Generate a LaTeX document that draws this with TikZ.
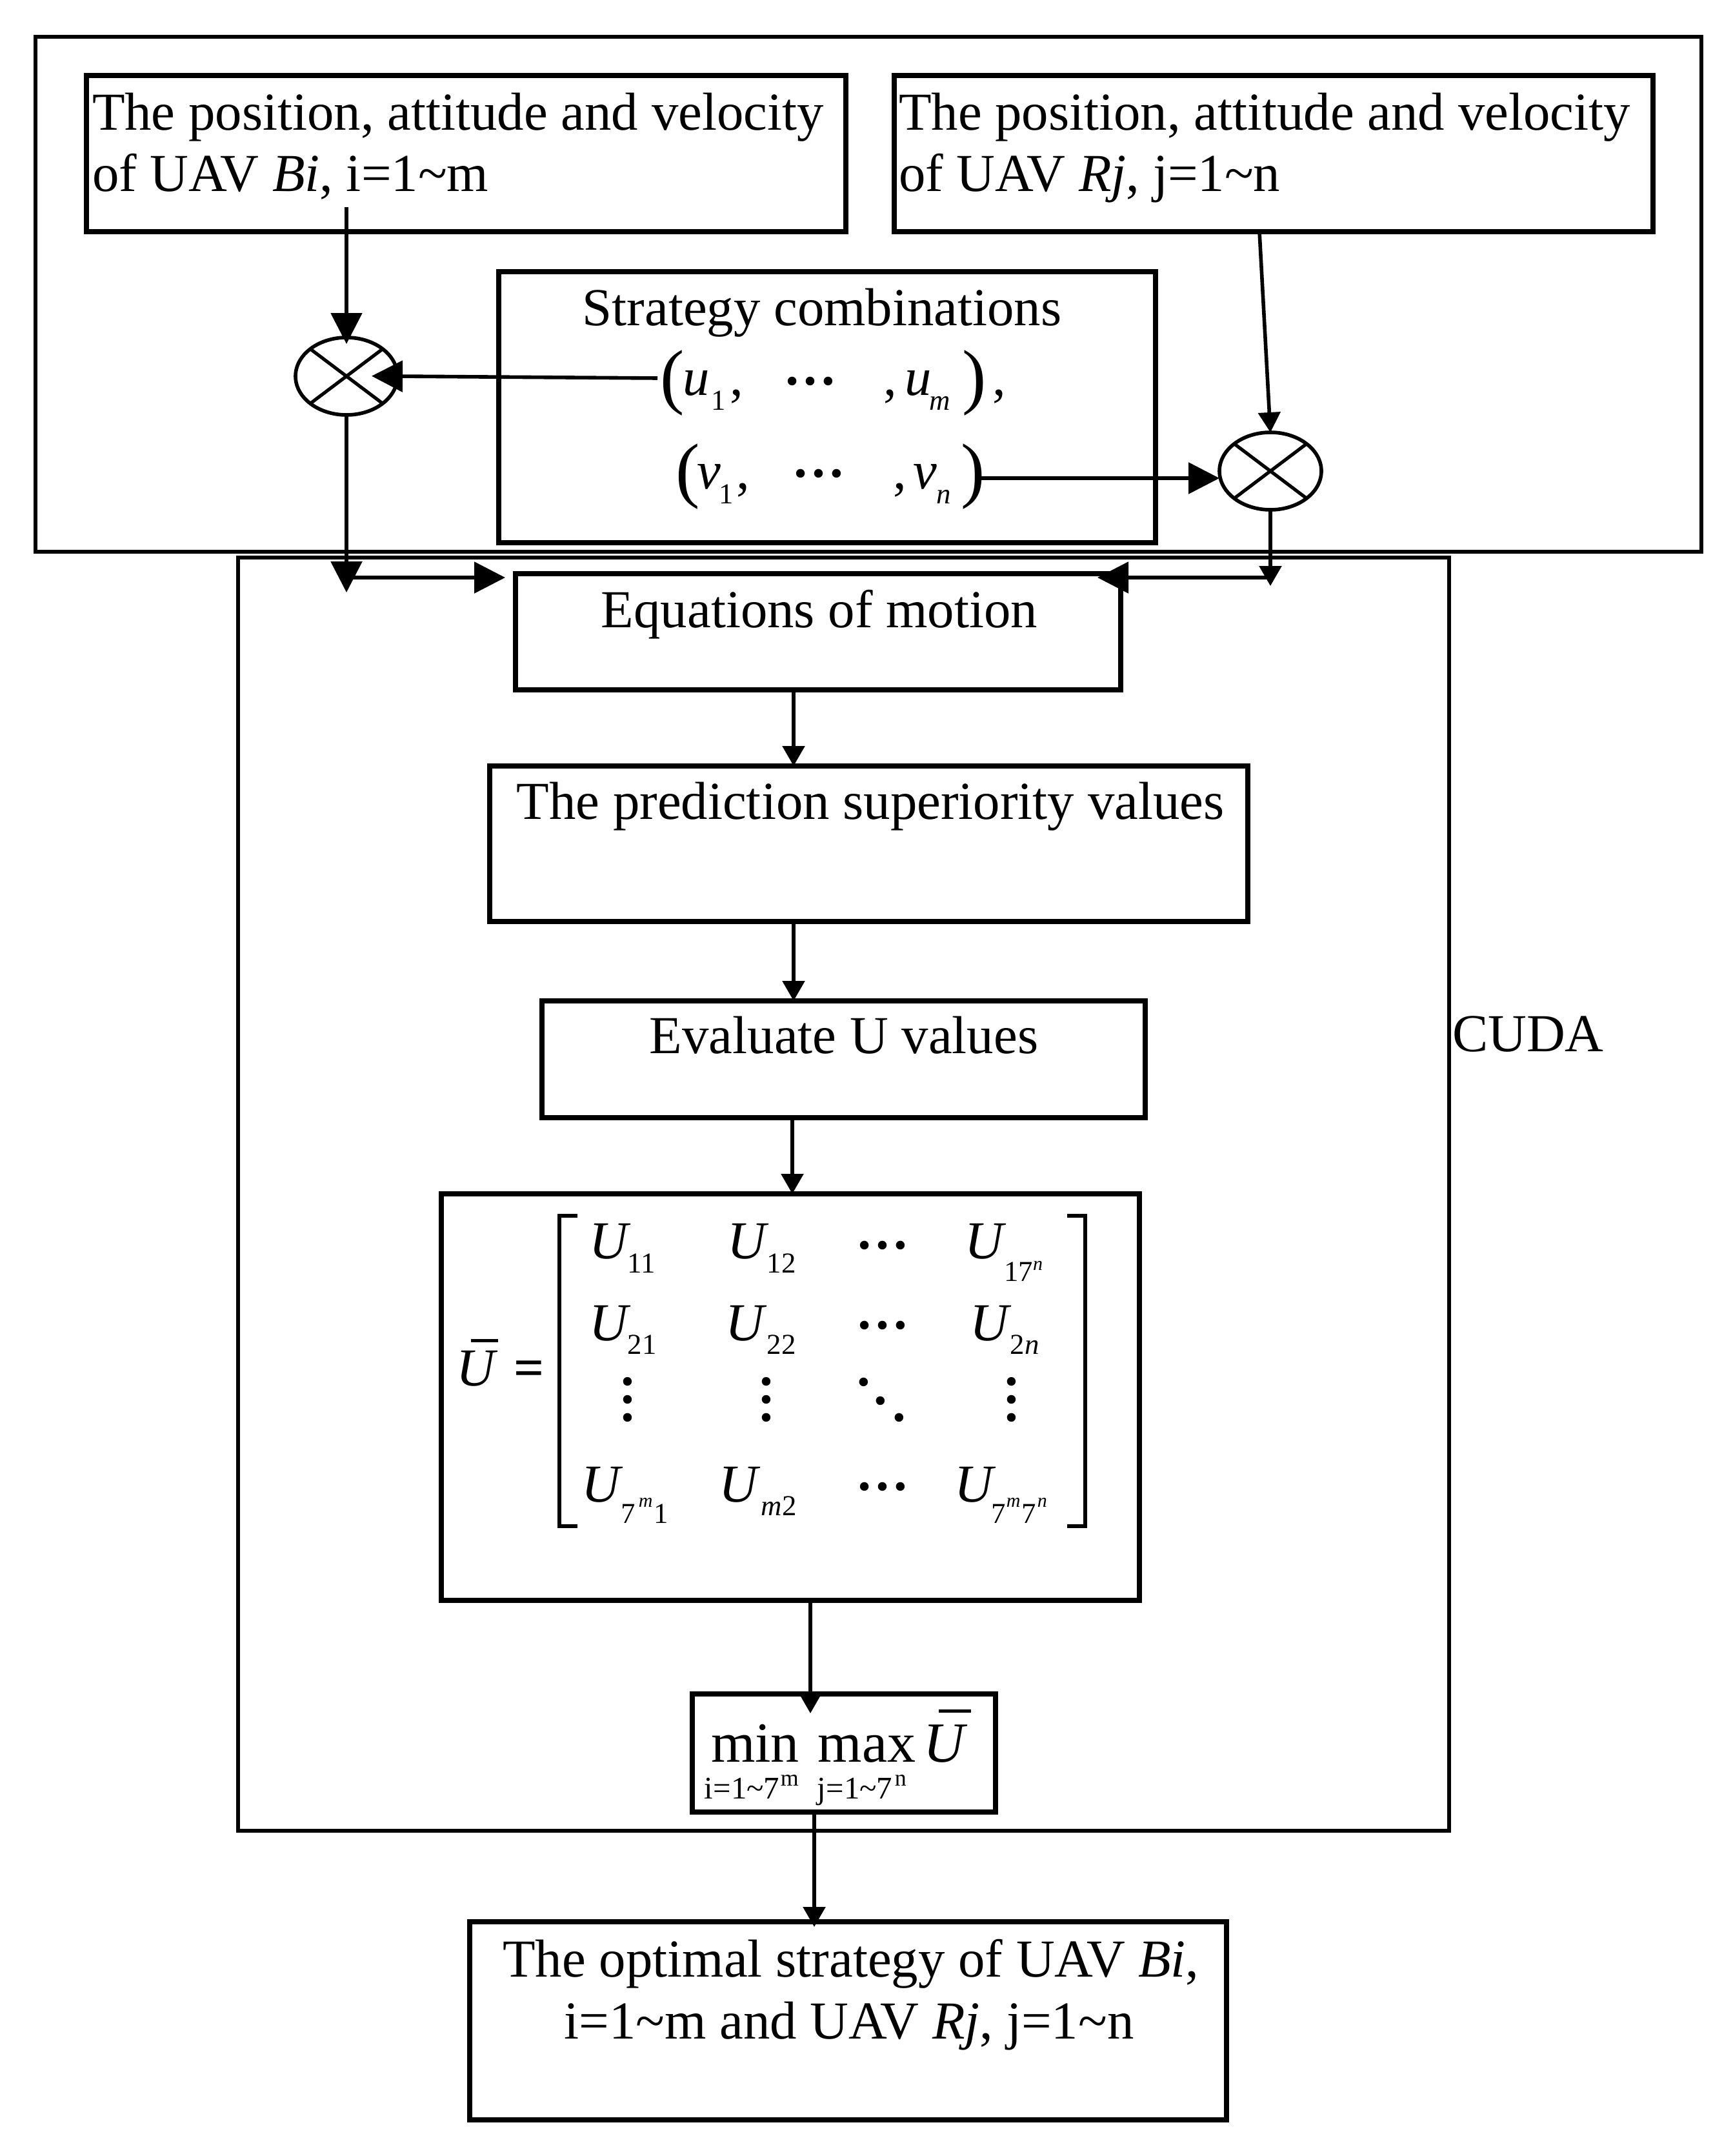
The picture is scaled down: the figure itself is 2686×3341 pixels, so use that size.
\documentclass[tikz,border=0pt]{standalone}
\usepackage{fontspec}
\setmainfont{Liberation Serif}
\usepackage{graphicx}
\usetikzlibrary{arrows.meta,shapes.geometric,fit}
\newcommand\pa[2]{\rlap{\hspace*{\dimexpr #1pt/4\relax}#2}}
\newcommand\szmain{\fontsize{20.7pt}{23.75pt}\selectfont}
\newcommand\szsub{\fontsize{11.2pt}{11.2pt}\selectfont}
\newcommand\szsup{\fontsize{7.5pt}{7.5pt}\selectfont}
\newcommand\lsub[1]{\raisebox{-5.75pt}{\szsub #1}}
\newcommand\sbx[3]{\pa{#1}{\raisebox{-#2pt}{\szsub #3}}}
\newcommand\spx[3]{\pa{#1}{\raisebox{-#2pt}{\szsup\itshape #3}}}
\newcommand\dts[2]{\pa{#1}{\raisebox{#2pt}{\textbf{…}}}}
\newcommand\vdt[1]{\pa{#1}{\rotatebox[origin=c]{90}{\textbf{…}}}}
\newcommand\pd[2]{\pa{#1}{\raisebox{#2pt}{\textbf{.}}}}
\newcommand\bigp[1]{\raisebox{-2pt}{\fontsize{28pt}{28pt}\selectfont #1}}
\newcommand\tl{\textasciitilde}
\tikzset{
  boxs/.style={draw, line width=2.2pt, inner sep=0pt, outer sep=0pt},
  frame/.style={draw, line width=1.6pt, inner sep=0pt, outer sep=0pt},
  cudaf/.style={draw, line width=1.5pt, inner sep=0pt, outer sep=0pt},
  circ/.style={ellipse, draw, line width=1.4pt, inner sep=0pt, outer sep=0pt, minimum width=39.5pt, minimum height=30pt},
  xline/.style={line width=1.3pt},
  txt/.style={inner sep=0pt, outer sep=0pt, font=\szmain},
  bigar/.style={line width=1.4pt, -{Triangle[length=12pt,width=12pt]}},
  smar/.style={line width=1.4pt, -{Triangle[length=7.75pt,width=8.5pt]}},
  brk/.style={line width=1.5pt},
}
\begin{document}
\begin{tikzpicture}[x=0.25pt,y=-0.25pt]
\useasboundingbox (0,0) rectangle (2686,3341);
% frames
\node[frame, fit={(55,57) (2637,855)}] (outer) {};
\node[cudaf, fit={(369,864) (2246,2837)}] (cuda) {};
% boxes
\node[boxs, fit={(134,117) (1311,359)}] (B) {};
\node[boxs, fit={(1386,117) (2562,359)}] (R) {};
\node[boxs, fit={(773,421) (1791,841)}] (strat) {};
\node[boxs, fit={(799,889) (1737,1069)}] (eq) {};
\node[boxs, fit={(759,1187) (1934,1428)}] (pred) {};
\node[boxs, fit={(840,1551) (1775,1732)}] (eval) {};
\node[boxs, fit={(684,1850) (1766,2480)}] (mat) {};
\node[boxs, fit={(1073,2625) (1543,2808)}] (mm) {};
\node[boxs, fit={(728,2978) (1901,3285)}] (opt) {};
% circles
\node[circ] (lc) at (537,583) {};
\draw[xline] (lc.37) -- (lc.217) (lc.143) -- (lc.323);
\node[circ] (rc) at (1969,730) {};
\draw[xline] (rc.37) -- (rc.217) (rc.143) -- (rc.323);
% texts
\node[txt, anchor=base west] (B1) at (143,201) {The position, attitude and velocity};
\node[txt, anchor=base west] (B2) at (143,296) {of UAV \textit{Bi}, i=1\tl m};
\node[txt, anchor=base west] (R1) at (1393,201) {The position, attitude and velocity};
\node[txt, anchor=base west] (R2) at (1393,296) {of UAV \textit{Rj}, j=1\tl n};
\node[txt, anchor=base] (stt) at (1274,504) {Strategy combinations};
\node[txt, anchor=base west] (urow) at (0,612) {\pa{1022}{\bigp{(}}\pa{1057}{\textit{u}}\pa{1100}{\lsub{1}}\pa{1129}{,}\dts{1213}{4}\pa{1368}{,}\pa{1401}{\textit{u}}\pa{1439}{\lsub{\textit{m}}}\pa{1490}{\bigp{)}}\pa{1537}{,}};
\node[txt, anchor=base west] (vrow) at (0,757) {\pa{1046}{\bigp{(}}\pa{1079}{\textit{v}}\pa{1113}{\lsub{1}}\pa{1140}{,}\dts{1226}{4.5}\pa{1383}{,}\pa{1414}{\textit{v}}\pa{1450}{\lsub{\textit{n}}}\pa{1488}{\bigp{)}}};
\node[txt, anchor=base] (eqt) at (1270,972) {Equations of motion};
\node[txt, anchor=base] (predt) at (1349,1269) {The prediction superiority values};
\node[txt, anchor=base] (evalt) at (1308,1632) {Evaluate U values};
\node[txt, anchor=base west] (cudat) at (2251,1629) {CUDA};
% matrix
\node[txt, anchor=base west] (ubar) at (0,2147) {\pa{705}{\textit{U}}\pa{728}{\raisebox{16.75pt}{\rule{10.5pt}{1.3pt}}}\pa{795}{\textbf{=}}};
\node[txt, anchor=base west] (mr1) at (0,1950) {\pa{912}{\textit{U}}\sbx{971}{5.5}{11}\pa{1126}{\textit{U}}\sbx{1187}{5.5}{12}\dts{1325}{3.75}\pa{1493}{\textit{U}}\sbx{1554}{8.75}{17}\spx{1599}{4.5}{n}};
\node[txt, anchor=base west] (mr2) at (0,2077) {\pa{912}{\textit{U}}\sbx{971}{5.25}{21}\pa{1123}{\textit{U}}\sbx{1187}{5.25}{22}\dts{1325}{4.5}\pa{1502}{\textit{U}}\sbx{1564}{5.25}{2\textit{n}}};
\node[txt, anchor=base west] (mr3) at (0,2175) {\vdt{964}\vdt{1179}\pd{1326}{7}\pd{1353}{-0.25}\pd{1382}{-6.75}\vdt{1559}};
\node[txt, anchor=base west] (mr4) at (0,2327) {\pa{900}{\textit{U}}\sbx{961}{8.25}{7}\spx{988}{2}{m}\sbx{1012}{8.25}{1}\pa{1113}{\textit{U}}\sbx{1178}{5.25}{\textit{m}2}\dts{1325}{4.5}\pa{1477}{\textit{U}}\sbx{1535}{8.25}{7}\spx{1558}{2}{m}\sbx{1582}{8.25}{7}\spx{1606}{2}{n}};
\draw[brk] (895,1884) -- (867,1884) -- (867,2365) -- (895,2365);
\draw[brk] (1654,1884) -- (1682,1884) -- (1682,2365) -- (1654,2365);
% min max
\node[txt, anchor=base west, font=\fontsize{22pt}{22pt}\selectfont] (mmt) at (0,2730) {\pa{1100}{min}\pa{1266}{max}\pa{1430}{\textit{U}}\pa{1453}{\raisebox{19pt}{\rule{12.5pt}{1.2pt}}}};
\node[txt, anchor=base west, font=\fontsize{12.2pt}{12.2pt}\selectfont] (mms) at (0,2787) {\pa{1090}{i=1\tl 7}\pa{1208}{\raisebox{5pt}{\fontsize{9pt}{9pt}\selectfont m}}\pa{1265}{j=1\tl 7}\pa{1385}{\raisebox{5pt}{\fontsize{9pt}{9pt}\selectfont n}}};
% bottom
\node[txt, anchor=base] (opt1) at (1319,3063) {The optimal strategy of UAV \textit{Bi},};
\node[txt, anchor=base] (opt2) at (1316,3159) {i=1\tl m and UAV \textit{Rj}, j=1\tl n};
% coordinates
\coordinate (bs) at (537,321);
\coordinate (us) at (1019,586);
\coordinate (vs) at (1517,741);
\coordinate (rx) at (1952,0);
\coordinate (ld) at (0,918);
\coordinate (rd) at (0,908);
\coordinate (hl) at (537,895);
\coordinate (hr) at (1969,895);
\coordinate (a1) at (1230,0);
\coordinate (a2) at (1228,0);
\coordinate (a3) at (1256,0);
\coordinate (a4) at (1262,0);
% connectors
\draw[bigar, shorten >=-2.5pt] (bs) -- (lc.north);
\draw[bigar, shorten >=-10pt] (us) -- (lc.east);
\draw[bigar] (vs) -- (rc.west |- vs);
\draw[smar] (R.south -| rx) -- (rc.north);
\draw[bigar] (lc.south) -- (lc.south |- ld);
\draw[bigar, shorten >=4pt] (hl) -- (eq.north west |- hl);
\draw[smar] (rc.south) -- (rc.south |- rd);
\draw[bigar, shorten >=-9pt] (hr) -- (eq.north east |- hr);
\draw[smar] (eq.south -| a1) -- (pred.north -| a1);
\draw[smar] (pred.south -| a1) -- (eval.north -| a1);
\draw[smar] (eval.south -| a2) -- (mat.north -| a2);
\draw[smar, shorten >=-7.5pt] (mat.south -| a3) -- (mm.north -| a3);
\draw[smar, shorten >=-2pt] (mm.south -| a4) -- (opt.north -| a4);
\end{tikzpicture}
\end{document}
